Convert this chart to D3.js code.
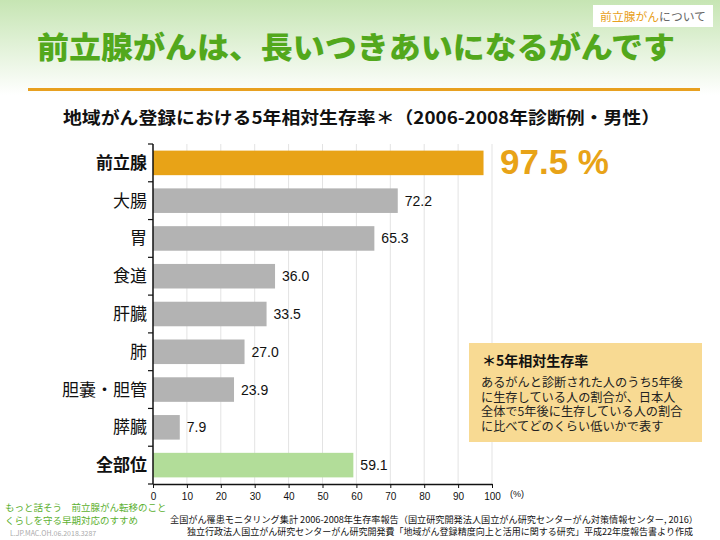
<!DOCTYPE html>
<html><head><meta charset="utf-8">
<script src="https://cdn.jsdelivr.net/npm/d3@7"></script>
<style>body{margin:0;background:#fff}svg{display:block}</style>
</head><body><svg id="c" width="720" height="540"></svg>
<script>
const categories = ["前立腺","大腸","胃","食道","肝臓","肺","胆嚢・胆管","膵臓","全部位"];
const values = [97.5,72.2,65.3,36.0,33.5,27.0,23.9,7.9,59.1];
const valueLabels = ["97.5 %","72.2","65.3","36.0","33.5","27.0","23.9","7.9","59.1"];
const xTicks = [0,10,20,30,40,50,60,70,80,90,100];
const boldCats = ["前立腺","全部位"];

const svg = d3.select("#c");
const font = "'Noto Sans CJK JP','Noto Sans',sans-serif";
const latin = "'Liberation Sans',Arial,sans-serif";
const defs = svg.append("defs");
const g1 = defs.append("linearGradient").attr("id","bg").attr("x1",0).attr("y1",0).attr("x2",0).attr("y2",1);
g1.append("stop").attr("offset","0").attr("stop-color","#c6e5b3");
g1.append("stop").attr("offset","1").attr("stop-color","#ffffff");
svg.append("rect").attr("x",0).attr("y",0).attr("width",720).attr("height",95).attr("fill","url(#bg)");

// top-right tag
svg.append("rect").attr("x",593).attr("y",5).attr("width",120).attr("height",22).attr("fill","#fff");
const tag = svg.append("text").attr("x",653).attr("y",20.5).attr("text-anchor","middle").attr("font-family",font).attr("font-size",11.8);
tag.append("tspan").attr("fill","#e8a020").text("前立腺がん");
tag.append("tspan").attr("fill","#666").text("について");

svg.append("text").attr("x",37).attr("y",58).attr("font-family",font).attr("font-weight",900)
  .attr("font-size",30).attr("fill","#52a81c").attr("textLength",638).attr("lengthAdjust","spacingAndGlyphs")
  .text("前立腺がんは、長いつきあいになるがんです");
svg.append("rect").attr("x",28).attr("y",88).attr("width",672).attr("height",3).attr("fill","#e8a020");

svg.append("text").attr("x",63).attr("y",124).attr("font-family",font).attr("font-weight","bold")
  .attr("font-size",17).attr("fill","#111").attr("textLength",597).attr("lengthAdjust","spacingAndGlyphs")
  .text("地域がん登録における5年相対生存率＊（2006-2008年診断例・男性）");

const x = d3.scaleLinear().domain([0,100]).range([153,492]);
const y = d3.scaleBand().domain(categories).range([144,484]).paddingInner(0.35).paddingOuter(0.175);

// gridlines
svg.append("g").selectAll("line").data(xTicks.slice(1)).join("line")
  .attr("x1",d=>x(d)).attr("x2",d=>x(d)).attr("y1",144).attr("y2",484)
  .attr("stroke","#e3e3e3").attr("stroke-width",1);

const colorFor = (c,i)=> i===0 ? "#e8a317" : (c==="全部位" ? "#b2dd99" : "#b3b3b3");
svg.append("g").selectAll("rect").data(categories).join("rect")
  .attr("x",x(0)).attr("y",d=>y(d)).attr("width",(d,i)=>x(values[i])-x(0)).attr("height",y.bandwidth())
  .attr("fill",(d,i)=>colorFor(d,i));

// value labels
svg.append("g").selectAll("text").data(categories).join("text")
  .attr("x",(d,i)=> i===0 ? 500 : x(values[i])+7)
  .attr("y",(d,i)=> y(d)+y.bandwidth()/2 + (i===0?11:5))
  .attr("font-family",latin)
  .attr("font-weight",(d,i)=>i===0?"bold":"normal")
  .attr("font-size",(d,i)=>i===0?35:14)
  .attr("fill",(d,i)=>i===0?"#e8a317":"#111")
  .text((d,i)=>valueLabels[i]);

// y axis
const yLine = svg.append("g");
yLine.append("line").attr("x1",153).attr("x2",153).attr("y1",144).attr("y2",484).attr("stroke","#111").attr("stroke-width",1.5);
const boundaryY = categories.map(c=>y(c)-y.step()*y.paddingInner()/2).concat([484]);
yLine.selectAll("line.t").data(boundaryY).join("line").attr("class","t")
  .attr("x1",148).attr("x2",153).attr("y1",d=>d).attr("y2",d=>d).attr("stroke","#111").attr("stroke-width",1.2);
svg.append("g").selectAll("text").data(categories).join("text")
  .attr("x",147).attr("y",d=>y(d)+y.bandwidth()/2+6)
  .attr("text-anchor","end").attr("font-family",font).attr("font-size",17)
  .attr("font-weight",d=>boldCats.includes(d)?"bold":"normal").attr("fill","#111").text(d=>d);

// x axis
const xa = svg.append("g").attr("transform","translate(0,484)")
  .call(d3.axisBottom(x).tickValues(xTicks).tickSize(4).tickSizeOuter(0));
xa.select(".domain").attr("stroke","#111").attr("stroke-width",1.5);
xa.selectAll(".tick line").attr("stroke","#111");
xa.selectAll("text").attr("font-family",latin).attr("font-size",10).attr("fill","#111").attr("dy","0.9em");
svg.append("text").attr("x",510).attr("y",497).attr("font-family",latin).attr("font-size",9).attr("fill","#111").text("(%)");

// note box
svg.append("rect").attr("x",469).attr("y",343).attr("width",233).attr("height",99).attr("fill","#f8da93");
svg.append("text").attr("x",482).attr("y",366).attr("font-family",font).attr("font-weight","bold").attr("font-size",14).attr("fill","#111").text("＊5年相対生存率");
const noteLines = ["あるがんと診断された人のうち5年後","に生存している人の割合が、日本人","全体で5年後に生存している人の割合","に比べてどのくらい低いかで表す"];
svg.append("text").attr("font-family",font).attr("font-size",12.2).attr("fill","#222")
  .selectAll("tspan").data(noteLines).join("tspan")
  .attr("x",481).attr("y",(d,i)=>387+i*14.7).text(d=>d);

// footer
const footL = ["もっと話そう　前立腺がん転移のこと","くらしを守る早期対応のすすめ"];
svg.append("text").attr("font-family",font).attr("font-size",9.5).attr("fill","#5cb030")
  .selectAll("tspan").data(footL).join("tspan")
  .attr("x",5).attr("y",(d,i)=>511+i*12.5).text(d=>d);
svg.append("text").attr("x",10).attr("y",536).attr("font-family",font).attr("font-size",7).attr("fill","#aaa").text("L.JP.MAC.OH.06.2018.3287");
const footR = [
  {t:"全国がん罹患モニタリング集計 2006-2008年生存率報告（国立研究開発法人国立がん研究センターがん対策情報センター, 2016）", x:170, w:528},
  {t:"独立行政法人国立がん研究センターがん研究開発費「地域がん登録精度向上と活用に関する研究」平成22年度報告書より作成", x:187, w:506}
];
svg.append("text").attr("font-family",font).attr("font-size",9).attr("fill","#111")
  .selectAll("tspan").data(footR).join("tspan")
  .attr("x",d=>d.x).attr("y",(d,i)=>523+i*12)
  .attr("textLength",d=>d.w).attr("lengthAdjust","spacingAndGlyphs").text(d=>d.t);
</script></body></html>
